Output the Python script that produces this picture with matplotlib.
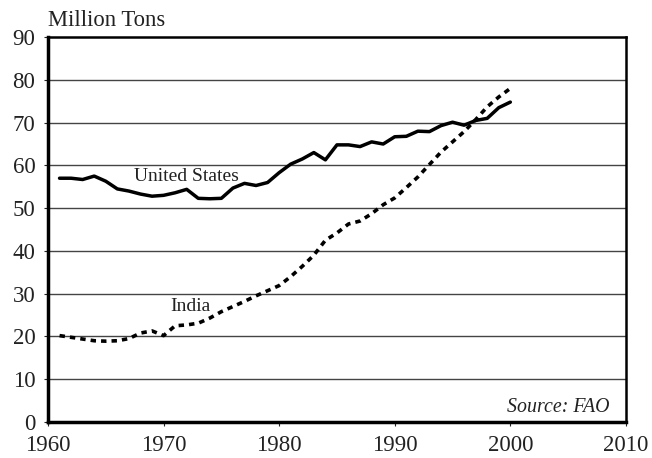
import matplotlib.pyplot as plt

plt.rcParams['font.family'] = ['Liberation Serif', 'DejaVu Serif']

years = list(range(1961, 2001))

us_tons = [57.0, 57.0, 56.7, 57.5, 56.3, 54.5, 54.0, 53.3, 52.8, 53.0,
           53.6, 54.4, 52.3, 52.2, 52.3, 54.7, 55.8, 55.3, 56.0, 58.3,
           60.3, 61.5, 63.0, 61.3, 64.8, 64.8, 64.4, 65.5, 65.0, 66.7,
           66.8, 68.0, 67.9, 69.3, 70.1, 69.4, 70.5, 71.0, 73.5, 74.8]

india_tons = [20.2, 19.8, 19.4, 19.0, 18.9, 19.0, 19.5, 20.8, 21.3, 20.2,
              22.5, 22.7, 23.1, 24.3, 25.8, 27.0, 28.2, 29.5, 30.7, 31.9,
              34.0, 36.4, 39.0, 42.5, 44.2, 46.3, 47.0, 48.7, 50.8, 52.4,
              54.8, 57.3, 60.2, 63.1, 65.5, 67.9, 70.7, 73.7, 76.0, 78.0]

x_ticks = [1960, 1970, 1980, 1990, 2000, 2010]
y_ticks = list(range(0, 100, 10))

fig = plt.figure(figsize=(6.52, 4.58), dpi=100)
ax = fig.add_axes([0.0736, 0.0786, 0.8864, 0.8404])

# grid lines
for v in y_ticks[1:-1]:
    ax.axhline(v, color='#444444', lw=1.0, zorder=1)

ax.plot(years, us_tons, color='black', lw=2.5, solid_capstyle='round', zorder=3)
ax.plot(years, india_tons, color='black', lw=2.6, linestyle=(0, (1.5, 1.4)), zorder=3)

ax.set_xlim(1960, 2010)
ax.set_ylim(0, 90)
ax.set_xticks(x_ticks)
ax.set_yticks(y_ticks)
ax.tick_params(labelsize=16.5, length=3, width=0.8, colors='#222222')
ax.tick_params(axis='x', pad=6)
ax.tick_params(axis='y', pad=6)

for side in ['left', 'bottom']:
    ax.spines[side].set_linewidth(2.5)
for side in ['top', 'right']:
    ax.spines[side].set_linewidth(1.8)

ax.text(1972.0, 57.3, 'United States', fontsize=14, ha='center', va='center', color='#222222')
ax.text(1972.3, 27.0, 'India', fontsize=14, ha='center', va='center', color='#222222')
ax.text(2008.6, 3.3, 'Source: FAO', fontsize=14.3, style='italic', ha='right', va='center', color='#222222')

fig.text(0.0736, 0.956, 'Million Tons', fontsize=16.3, ha='left', va='center', color='#222222')

fig.savefig('out.png', dpi=100)
